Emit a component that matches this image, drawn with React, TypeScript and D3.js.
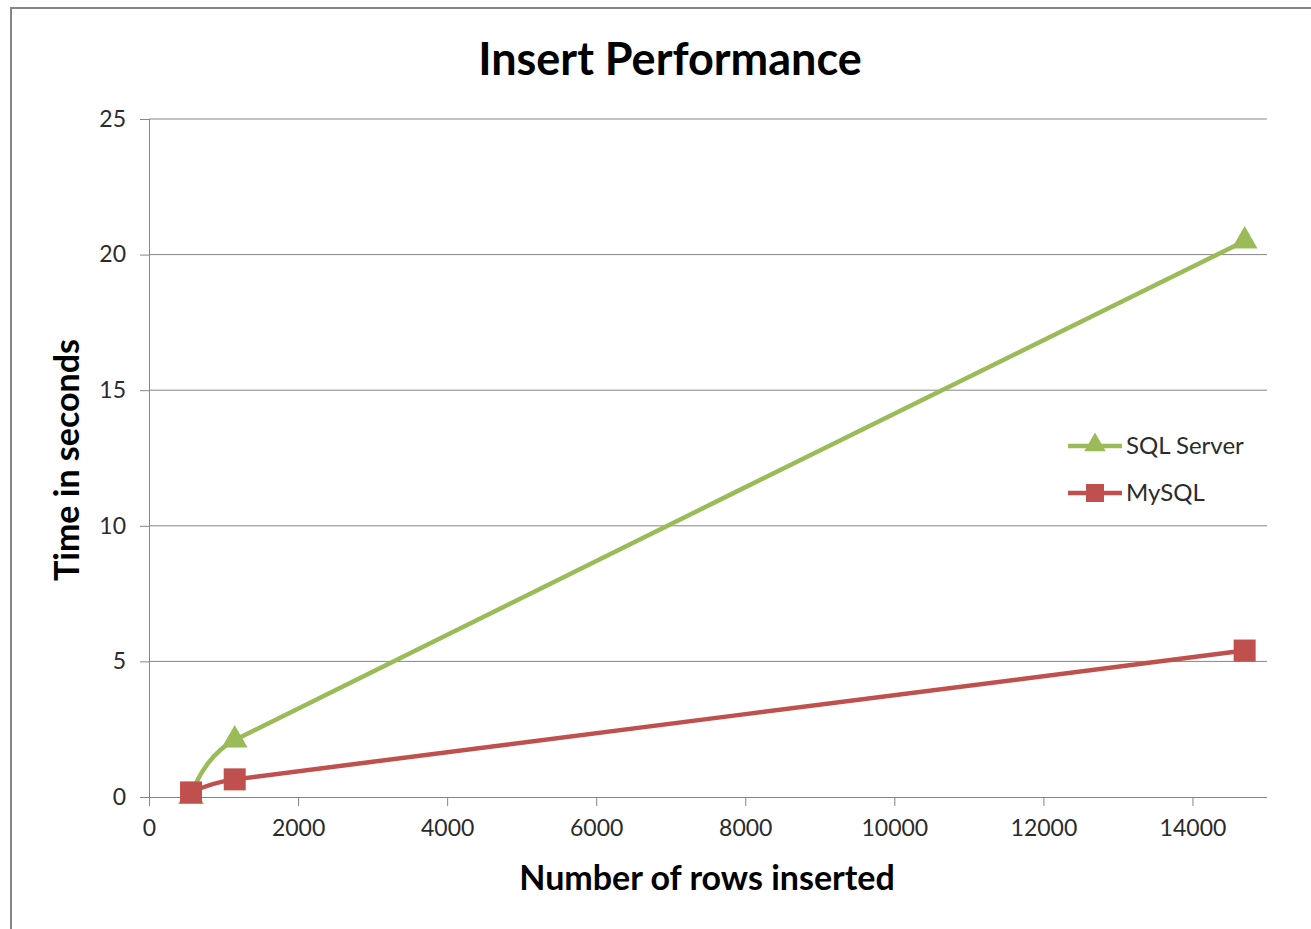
import React, { useRef, useEffect } from 'react';
import * as d3 from 'd3';

const rowsInserted = [564, 1150, 14700];
const sqlServerTimes = [0.02, 2.1, 20.5];
const mySqlTimes = [0.17, 0.65, 5.4];
const xTicks = [0, 2000, 4000, 6000, 8000, 10000, 12000, 14000];
const yTicks = [0, 5, 10, 15, 20, 25];

const seriesList = [
    { name: 'SQL Server', values: sqlServerTimes, color: '#9BBB59', marker: 'triangle' },
    { name: 'MySQL', values: mySqlTimes, color: '#C0504D', marker: 'square' },
];

const W = 1311;
const H = 929;
const FONT = 'Lato, "Open Sans", sans-serif';

// Excel-style smoothed line: short tangents so long segments stay nearly straight
const smoothPath = (pts: [number, number][]) => {
    const n = pts.length;
    const len = (a: [number, number], b: [number, number]) => Math.hypot(b[0] - a[0], b[1] - a[1]);
    const unit = (dx: number, dy: number): [number, number] => {
        const l = Math.hypot(dx, dy) || 1;
        return [dx / l, dy / l];
    };
    const tan: [number, number][] = [];
    const mag: number[] = [];
    for (let i = 0; i < n; i++) {
        if (i > 0 && i < n - 1) {
            tan[i] = unit(pts[i + 1][0] - pts[i - 1][0], pts[i + 1][1] - pts[i - 1][1]);
            mag[i] = Math.min(len(pts[i - 1], pts[i]), len(pts[i], pts[i + 1])) / 3;
        }
    }
    if (n > 2) {
        const s0 = unit(pts[1][0] - pts[0][0], pts[1][1] - pts[0][1]);
        tan[0] = unit(2 * s0[0] - tan[1][0], 2 * s0[1] - tan[1][1]);
        mag[0] = mag[1];
        const s1 = unit(pts[n - 1][0] - pts[n - 2][0], pts[n - 1][1] - pts[n - 2][1]);
        tan[n - 1] = unit(2 * s1[0] - tan[n - 2][0], 2 * s1[1] - tan[n - 2][1]);
        mag[n - 1] = mag[n - 2];
    }
    const p = d3.path();
    p.moveTo(pts[0][0], pts[0][1]);
    for (let i = 0; i < n - 1; i++) {
        if (n <= 2) { p.lineTo(pts[i + 1][0], pts[i + 1][1]); continue; }
        p.bezierCurveTo(
            pts[i][0] + tan[i][0] * mag[i], pts[i][1] + tan[i][1] * mag[i],
            pts[i + 1][0] - tan[i + 1][0] * mag[i + 1], pts[i + 1][1] - tan[i + 1][1] * mag[i + 1],
            pts[i + 1][0], pts[i + 1][1]
        );
    }
    return p.toString();
};

const App: React.FC = () => {
    const svgRef = useRef<SVGSVGElement | null>(null);

    useEffect(() => {
        if (!svgRef.current) return;
        const svg = d3.select(svgRef.current);
        svg.selectAll('*').remove();

        const left = 149, right = 1267, top = 119, bottom = 797;
        const x = d3.scaleLinear().domain([0, 15000]).range([left, right]);
        const y = d3.scaleLinear().domain([0, 25]).range([bottom, top]);

        svg.append('rect')
            .attr('x', 11).attr('y', 8)
            .attr('width', W + 20).attr('height', H + 20)
            .attr('fill', '#fff').attr('stroke', '#868686').attr('stroke-width', 2);

        // gridlines
        svg.append('g').selectAll('line')
            .data(yTicks.filter(d => d > 0))
            .enter().append('line')
            .attr('x1', left).attr('x2', right)
            .attr('y1', d => y(d)).attr('y2', d => y(d))
            .attr('stroke', '#868686').attr('stroke-width', 1);

        const yAxis = svg.append('g')
            .attr('transform', `translate(${left},0)`)
            .call(d3.axisLeft(y).tickValues(yTicks).tickSize(9).tickPadding(14));
        const xAxis = svg.append('g')
            .attr('transform', `translate(0,${bottom})`)
            .call(d3.axisBottom(x).tickValues(xTicks).tickSize(9).tickPadding(14).tickFormat(d3.format('d')));

        [xAxis, yAxis].forEach(a => {
            a.select('.domain').attr('stroke', '#868686').attr('stroke-width', 1);
            a.selectAll('.tick line').attr('stroke', '#868686');
            a.selectAll('.tick text')
                .attr('fill', '#2b2b2b')
                .style('font-family', FONT)
                .style('font-size', '23px');
        });
        xAxis.select('.domain').attr('d', `M${left},0.5H${right}`);
        yAxis.select('.domain').attr('d', `M0.5,${top}V${bottom}`);

        const triangle = d3.symbol().type(d3.symbolTriangle).size(290);

        seriesList.forEach(s => {
            const pts = s.values.map((v, i) => [x(rowsInserted[i]), y(v)] as [number, number]);
            svg.append('path')
                .attr('d', smoothPath(pts))
                .attr('fill', 'none')
                .attr('stroke', s.color)
                .attr('stroke-width', 4.5);
        });

        seriesList.forEach(s => {
            const g = svg.append('g');
            s.values.forEach((v, i) => {
                const cx = x(rowsInserted[i]);
                const cy = y(v);
                if (s.marker === 'square') {
                    g.append('rect')
                        .attr('x', cx - 11).attr('y', cy - 11)
                        .attr('width', 22).attr('height', 22)
                        .attr('fill', s.color);
                } else {
                    g.append('path')
                        .attr('d', triangle)
                        .attr('transform', `translate(${cx},${cy})`)
                        .attr('fill', s.color);
                }
            });
        });

        // legend
        const legend = svg.append('g').attr('transform', 'translate(1068,446)');
        seriesList.forEach((s, i) => {
            const row = legend.append('g').attr('transform', `translate(0,${i * 47})`);
            row.append('line')
                .attr('x1', 0).attr('x2', 54)
                .attr('stroke', s.color).attr('stroke-width', 4.5);
            if (s.marker === 'square') {
                row.append('rect').attr('x', 18).attr('y', -9).attr('width', 18).attr('height', 18).attr('fill', s.color);
            } else {
                row.append('path').attr('d', d3.symbol().type(d3.symbolTriangle).size(200)).attr('transform', 'translate(27,-1)').attr('fill', s.color);
            }
            row.append('text')
                .attr('x', 58).attr('y', 8)
                .attr('fill', '#2b2b2b')
                .style('font-family', FONT)
                .style('font-size', '24px')
                .text(s.name);
        });

        svg.append('text')
            .attr('x', 670).attr('y', 75)
            .attr('text-anchor', 'middle')
            .style('font-family', FONT).style('font-weight', 'bold').style('font-size', '45px')
            .text('Insert Performance');

        svg.append('text')
            .attr('x', 707).attr('y', 890)
            .attr('text-anchor', 'middle')
            .style('font-family', FONT).style('font-weight', 'bold').style('font-size', '34px')
            .text('Number of rows inserted');

        svg.append('text')
            .attr('transform', 'translate(79,460) rotate(-90)')
            .attr('text-anchor', 'middle')
            .style('font-family', FONT).style('font-weight', 'bold').style('font-size', '34px')
            .text('Time in seconds');
    }, []);

    return (
        <svg ref={svgRef} width={W} height={H}
            style={{ position: 'absolute', left: 0, top: 0, background: '#fff' }} />
    );
};

export default App;
